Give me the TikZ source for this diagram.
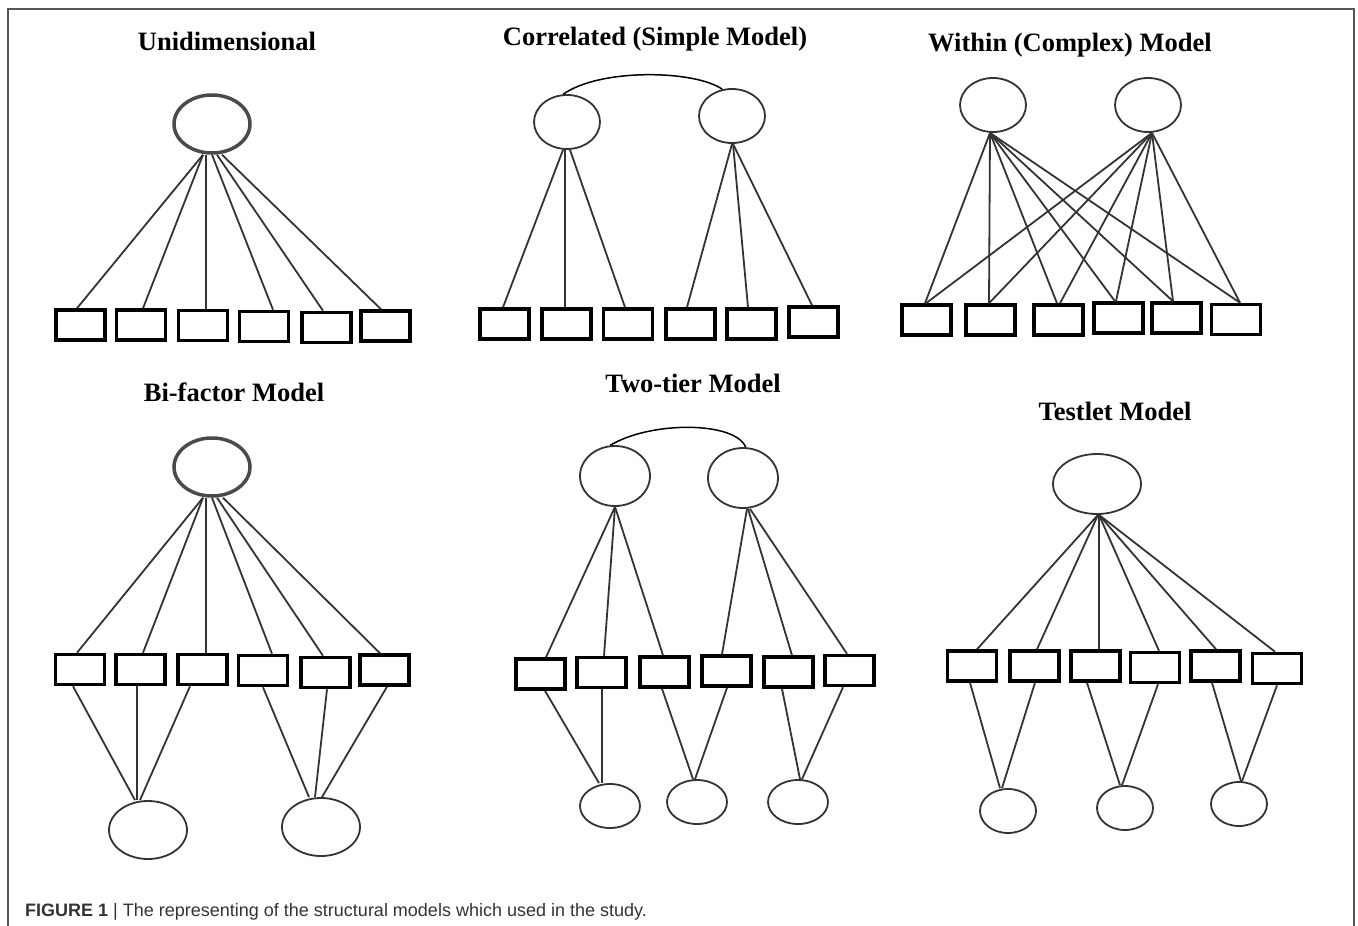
\documentclass[tikz,border=0pt]{standalone}
\usepackage{fontspec}
\setmainfont{Liberation Serif}
\newfontfamily\capfont{Liberation Sans}
\usetikzlibrary{shapes.geometric}
\definecolor{ink}{HTML}{333333}
\definecolor{framec}{HTML}{555555}
\definecolor{thickc}{HTML}{4a4a4a}
\begin{document}
\begin{tikzpicture}[x=1pt,y=-1pt,
  ttl/.style={font=\fontsize{26.5}{30}\selectfont\bfseries, anchor=base, inner sep=0pt},
  latk/.style={ellipse, draw=thickc, line width=3.5pt, inner sep=0pt, minimum width=76pt, minimum height=58pt},
  lat/.style={ellipse, draw=ink, line width=1.8pt, inner sep=0pt},
  obs/.style={rectangle, draw=black, line width=3.5pt, inner sep=0pt, minimum width=49pt, minimum height=30pt},
  ln/.style={draw=ink, line width=1.8pt}]
\useasboundingbox (0,0) rectangle (1358,926);
% frame
\draw[framec, line width=2pt] (8,926) -- (8,9) -- (1354,9) -- (1354,926);

% ---------------- Panel 1: Unidimensional
\node[ttl] (t1) at (227,50) {Unidimensional};
\node[latk] (aL) at (212,124) {};
\node[obs] (a1) at (80.5,325) {};
\node[obs] (a2) at (141,325) {};
\node[obs] (a3) at (203,325.5) {};
\node[obs] (a4) at (264,326.5) {};
\node[obs] (a5) at (326.5,327.5) {};
\node[obs] (a6) at (385.5,326) {};
\draw[ln] ([xshift=-9pt]aL.south) -- ([xshift=-3.5pt]a1.north);
\draw[ln] ([xshift=-9pt]aL.south) -- ([xshift=2pt]a2.north);
\draw[ln] ([xshift=-6pt]aL.south) -- ([xshift=3pt]a3.north);
\draw[ln] ([xshift=0pt]aL.south) -- ([xshift=9pt]a4.north);
\draw[ln] ([xshift=5pt]aL.south) -- ([xshift=-3.5pt]a5.north);
\draw[ln] ([xshift=10pt]aL.south) -- ([xshift=-4.5pt]a6.north);

% ---------------- Panel 2: Correlated
\node[ttl] (t2) at (655,45) {Correlated (Simple Model)};
\node[lat, minimum width=66pt, minimum height=54pt] (bE1) at (567,122) {};
\node[lat, minimum width=66pt, minimum height=54pt] (bE2) at (732,116) {};
\node[obs] (b1) at (504.5,324) {};
\node[obs] (b2) at (566.5,324) {};
\node[obs] (b3) at (628,324) {};
\node[obs] (b4) at (690.5,324) {};
\node[obs] (b5) at (751.5,324) {};
\node[obs] (b6) at (813.5,322) {};
\draw[ln, line width=1.5pt, black] (bE1.98) .. controls (600,68) and (695,70) .. (bE2.110);
\draw[ln] ([xshift=-4pt]bE1.south) -- ([xshift=-1.5pt]b1.north);
\draw[ln] ([xshift=-2pt]bE1.south) -- ([xshift=-1.5pt]b2.north);
\draw[ln] ([xshift=3pt]bE1.south) -- ([xshift=-3pt]b3.north);
\draw[ln] ([xshift=0pt]bE2.south) -- ([xshift=-3.5pt]b4.north);
\draw[ln] ([xshift=1pt]bE2.south) -- ([xshift=-3.5pt]b5.north);
\draw[ln] ([xshift=1pt]bE2.south) -- ([xshift=-1.5pt]b6.north);

% ---------------- Panel 3: Within
\node[ttl] (t3) at (1070,51) {Within (Complex) Model};
\node[lat, minimum width=66pt, minimum height=54pt] (cF1) at (993,105) {};
\node[lat, minimum width=66pt, minimum height=54pt] (cF2) at (1148,105) {};
\node[obs] (c1) at (926.5,320) {};
\node[obs] (c2) at (990.5,320) {};
\node[obs] (c3) at (1058.5,320) {};
\node[obs] (c4) at (1118.5,318) {};
\node[obs] (c5) at (1176.5,318) {};
\node[obs] (c6) at (1236,319.5) {};
\draw[ln] ([xshift=-3pt]cF1.south) -- ([xshift=-1.5pt]c1.north);
\draw[ln] ([xshift=-3pt]cF1.south) -- ([xshift=-1.5pt]c2.north);
\draw[ln] ([xshift=-3pt]cF1.south) -- ([xshift=-1.5pt]c3.north);
\draw[ln] ([xshift=-3pt]cF1.south) -- ([xshift=-3.5pt]c4.north);
\draw[ln] ([xshift=-3pt]cF1.south) -- ([xshift=-3.5pt]c5.north);
\draw[ln] ([xshift=-3pt]cF1.south) -- ([xshift=4pt]c6.north);
\draw[ln] ([xshift=4pt]cF2.south) -- ([xshift=-0.5pt]c1.north);
\draw[ln] ([xshift=4pt]cF2.south) -- ([xshift=-1.5pt]c2.north);
\draw[ln] ([xshift=4pt]cF2.south) -- ([xshift=1.5pt]c3.north);
\draw[ln] ([xshift=4pt]cF2.south) -- ([xshift=-2.5pt]c4.north);
\draw[ln] ([xshift=4pt]cF2.south) -- ([xshift=-3.5pt]c5.north);
\draw[ln] ([xshift=4pt]cF2.south) -- ([xshift=4pt]c6.north);

% ---------------- Panel 4: Bi-factor
\node[ttl] (t4) at (234,401) {Bi-factor Model};
\node[latk] (dG) at (212,467) {};
\node[obs] (d1) at (80,669.5) {};
\node[obs] (d2) at (140.5,669.5) {};
\node[obs] (d3) at (202.5,669.5) {};
\node[obs] (d4) at (263,670.5) {};
\node[obs] (d5) at (325.5,672.5) {};
\node[obs] (d6) at (384.5,670) {};
\node[lat, minimum width=78pt, minimum height=58pt] (dS1) at (148,830) {};
\node[lat, minimum width=78pt, minimum height=58pt] (dS2) at (321,827) {};
\draw[ln] ([xshift=-9pt]dG.south) -- ([xshift=-3pt]d1.north);
\draw[ln] ([xshift=-9pt]dG.south) -- ([xshift=2.5pt]d2.north);
\draw[ln] ([xshift=-6pt]dG.south) -- ([xshift=3.5pt]d3.north);
\draw[ln] ([xshift=0pt]dG.south) -- ([xshift=9pt]d4.north);
\draw[ln] ([xshift=5pt]dG.south) -- ([xshift=-2.5pt]d5.north);
\draw[ln] ([xshift=11pt]dG.south) -- ([xshift=-4.5pt]d6.north);
\draw[ln] ([xshift=-7pt]d1.south) -- ([xshift=-13pt]dS1.north);
\draw[ln] ([xshift=-3.5pt]d2.south) -- ([xshift=-11pt]dS1.north);
\draw[ln] ([xshift=-12.5pt]d3.south) -- ([xshift=-8pt]dS1.north);
\draw[ln] ([xshift=0pt]d4.south) -- ([xshift=-12pt]dS2.north);
\draw[ln] ([xshift=1.5pt]d5.south) -- ([xshift=-6pt]dS2.north);
\draw[ln] ([xshift=2.5pt]d6.south) -- ([xshift=1pt]dS2.north);

% ---------------- Panel 5: Two-tier
\node[ttl] (t5) at (693,392) {Two-tier Model};
\node[lat, minimum width=70pt, minimum height=60pt] (eT1) at (615,476) {};
\node[lat, minimum width=70pt, minimum height=60pt] (eT2) at (743,478) {};
\node[obs] (e1) at (540.5,674) {};
\node[obs] (e2) at (601.5,672.5) {};
\node[obs] (e3) at (664.5,672) {};
\node[obs] (e4) at (726.5,671) {};
\node[obs] (e5) at (788.5,672) {};
\node[obs] (e6) at (849.5,670.5) {};
\node[lat, minimum width=60pt, minimum height=44pt] (eB1) at (610,806) {};
\node[lat, minimum width=60pt, minimum height=44pt] (eB2) at (697,802) {};
\node[lat, minimum width=60pt, minimum height=44pt] (eB3) at (798,802) {};
\draw[ln, line width=1.5pt, black] (eT1.99) .. controls (650,421) and (735,421) .. (eT2.85);
\draw[ln] (eT1.south) -- ([xshift=5.5pt]e1.north);
\draw[ln] (eT1.south) -- ([xshift=2.5pt]e2.north);
\draw[ln] (eT1.south) -- ([xshift=-1.5pt]e3.north);
\draw[ln] ([xshift=4pt]eT2.south) -- ([xshift=-4.5pt]e4.north);
\draw[ln] ([xshift=5pt]eT2.south) -- ([xshift=3.5pt]e5.north);
\draw[ln] ([xshift=7pt]eT2.south) -- ([xshift=-2.5pt]e6.north);
\draw[ln] ([xshift=4.5pt]e1.south) -- ([xshift=-11pt]eB1.north);
\draw[ln] ([xshift=0.5pt]e2.south) -- ([xshift=-8pt]eB1.north);
\draw[ln] ([xshift=-2.5pt]e3.south) -- ([xshift=-4pt]eB2.north);
\draw[ln] ([xshift=0.5pt]e4.south) -- ([xshift=-2pt]eB2.north);
\draw[ln] ([xshift=-6.5pt]e5.south) -- ([xshift=2pt]eB3.north);
\draw[ln] ([xshift=-6.5pt]e6.south) -- ([xshift=4pt]eB3.north);

% ---------------- Panel 6: Testlet
\node[ttl] (t6) at (1115,420) {Testlet Model};
\node[lat, minimum width=88pt, minimum height=60pt] (fU) at (1097,484) {};
\node[obs] (f1) at (972,666) {};
\node[obs] (f2) at (1034.5,666) {};
\node[obs] (f3) at (1095.5,666) {};
\node[obs] (f4) at (1155,667.5) {};
\node[obs] (f5) at (1215.5,666) {};
\node[obs] (f6) at (1277,668.5) {};
\node[lat, minimum width=56pt, minimum height=44pt] (fC1) at (1008,811) {};
\node[lat, minimum width=56pt, minimum height=44pt] (fC2) at (1125,808) {};
\node[lat, minimum width=56pt, minimum height=44pt] (fC3) at (1239,804) {};
\draw[ln] ([xshift=1pt]fU.south) -- ([xshift=5pt]f1.north);
\draw[ln] ([xshift=1pt]fU.south) -- ([xshift=2.5pt]f2.north);
\draw[ln] ([xshift=2pt]fU.south) -- ([xshift=3.5pt]f3.north);
\draw[ln] ([xshift=2pt]fU.south) -- ([xshift=4pt]f4.north);
\draw[ln] ([xshift=2pt]fU.south) -- ([xshift=0.5pt]f5.north);
\draw[ln] ([xshift=2pt]fU.south) -- ([xshift=-2pt]f6.north);
\draw[ln] ([xshift=-2pt]f1.south) -- ([xshift=-8pt]fC1.north);
\draw[ln] ([xshift=0.5pt]f2.south) -- ([xshift=-6pt]fC1.north);
\draw[ln] ([xshift=-8.5pt]f3.south) -- ([xshift=-5pt]fC2.north);
\draw[ln] ([xshift=3pt]f4.south) -- ([xshift=-3pt]fC2.north);
\draw[ln] ([xshift=-3.5pt]f5.south) -- ([xshift=2pt]fC3.north);
\draw[ln] ([xshift=0pt]f6.south) -- ([xshift=3pt]fC3.north);

% ---------------- Caption
\node[anchor=base west, inner sep=0pt, text=ink, font=\capfont\fontsize{18}{20}\selectfont] (cap) at (25,916)
  {\textbf{FIGURE 1} | The representing of the structural models which used in the study.};
\end{tikzpicture}
\end{document}
